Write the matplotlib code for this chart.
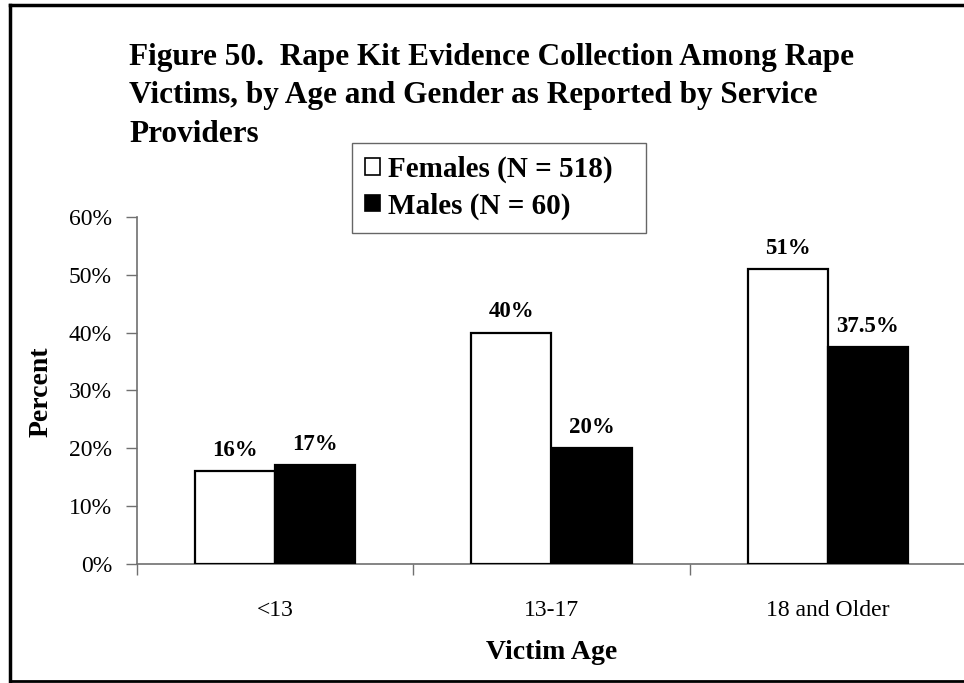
import matplotlib
matplotlib.use("Agg")
import matplotlib.pyplot as plt
from matplotlib.lines import Line2D
from matplotlib.patches import Patch
import numpy as np

title_lines = ["Figure 50.  Rape Kit Evidence Collection Among Rape",
               "Victims, by Age and Gender as Reported by Service",
               "Providers"]
categories = ["<13", "13-17", "18 and Older"]
females = [16, 40, 51]
males = [17, 20, 37.5]
series_names = ["Females (N = 518)", "Males (N = 60)"]
yticks = [0, 10, 20, 30, 40, 50, 60]
xlabel = "Victim Age"
ylabel = "Percent"

plt.rcParams['font.family'] = ['Liberation Serif', 'DejaVu Serif']

W, H = 964, 683
fig = plt.figure(figsize=(W / 100, H / 100), dpi=100)

def fx(px):
    return px / W

def fy(py):
    return 1 - py / H

ax = fig.add_axes([fx(137), fy(563.7), fx(829), (563.7 - 217) / H])

x = np.arange(len(categories))
bw = 0.29
ax.bar(x - bw / 2, females, bw, color="white", edgecolor="black", linewidth=1.6, label=series_names[0], zorder=3)
ax.bar(x + bw / 2, males, bw, color="black", edgecolor="black", linewidth=1.6, label=series_names[1], zorder=3)

for xi, v in zip(x - bw / 2, females):
    ax.text(xi, v + 1.8, f"{v:g}%", ha="center", va="bottom", fontsize=16.5, fontweight="bold")
for xi, v in zip(x + bw / 2, males):
    ax.text(xi, v + 1.8, f"{v:g}%", ha="center", va="bottom", fontsize=16.5, fontweight="bold")

ax.set_xlim(-0.5, 2.5)
ax.set_ylim(0, 60)
ax.set_yticks(yticks)
ax.set_yticklabels([f"{t}%" for t in yticks], fontsize=17)
ax.tick_params(axis="y", direction="out", length=8, width=1, color="#707070", pad=10)

ax.set_xticks(x)
ax.set_xticklabels(categories, fontsize=17)
ax.tick_params(axis="x", which="major", length=0, pad=26)
ax.set_xticks([-0.5, 0.5, 1.5, 2.5], minor=True)
ax.tick_params(axis="x", which="minor", direction="out", length=8, width=1, color="#707070")

for s in ["top", "right"]:
    ax.spines[s].set_visible(False)
for s in ["left", "bottom"]:
    ax.spines[s].set_color("#707070")
    ax.spines[s].set_linewidth(1.2)
    ax.spines[s].set_clip_on(False)

ax.set_xlabel(xlabel, fontsize=20, fontweight="bold", labelpad=14)
fig.text(fx(41), fy(392), ylabel, rotation=90, ha="center", va="center", fontsize=20, fontweight="bold")

for i, line in enumerate(title_lines):
    fig.text(fx(129), fy(65 + 38.5 * i), line, ha="left", va="baseline", fontsize=22.5, fontweight="bold")

handles = [Patch(facecolor="white", edgecolor="black", linewidth=1.2),
           Patch(facecolor="black", edgecolor="black", linewidth=1.2)]
leg = fig.legend(handles, series_names, loc="upper left", mode="expand",
                 bbox_to_anchor=(fx(352), fy(238), fx(294), (238 - 143) / H),
                 prop={"size": 21, "weight": "bold"},
                 frameon=True, fancybox=False, handlelength=0.5, handleheight=0.5,
                 handletextpad=0.3, borderpad=0.45, labelspacing=0.3, borderaxespad=0)
leg.get_frame().set_edgecolor("#404040")
leg.get_frame().set_linewidth(1.0)

fig.add_artist(Line2D([fx(10), fx(10)], [fy(5), fy(681)], color="black", lw=2.5, transform=fig.transFigure))
fig.add_artist(Line2D([fx(10), 1.0], [fy(5), fy(5)], color="black", lw=2.5, transform=fig.transFigure))
fig.add_artist(Line2D([fx(10), 1.0], [fy(681), fy(681)], color="black", lw=2.0, transform=fig.transFigure))

fig.savefig("out.png", dpi=100)
